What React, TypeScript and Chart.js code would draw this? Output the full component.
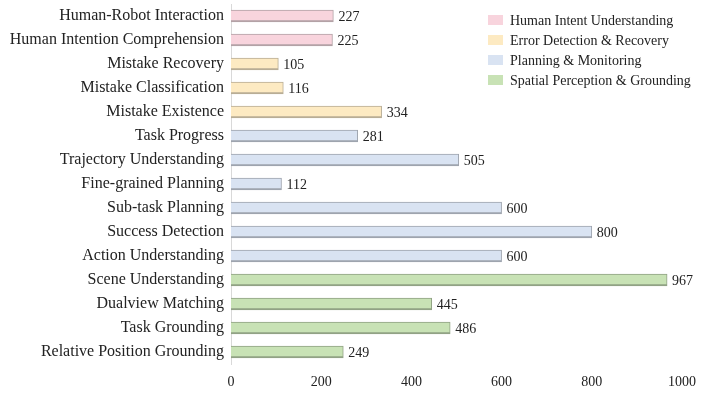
import React, { useEffect, useRef } from "react";
import { Chart, registerables } from "chart.js";

Chart.register(...registerables);

const categories = [
  "Human-Robot Interaction",
  "Human Intention Comprehension",
  "Mistake Recovery",
  "Mistake Classification",
  "Mistake Existence",
  "Task Progress",
  "Trajectory Understanding",
  "Fine-grained Planning",
  "Sub-task Planning",
  "Success Detection",
  "Action Understanding",
  "Scene Understanding",
  "Dualview Matching",
  "Task Grounding",
  "Relative Position Grounding",
];

const values = [227, 225, 105, 116, 334, 281, 505, 112, 600, 800, 600, 967, 445, 486, 249];

const groupNames = [
  "Human Intent Understanding",
  "Error Detection & Recovery",
  "Planning & Monitoring",
  "Spatial Perception & Grounding",
];

// group index of each category
const groupOf = [0, 0, 1, 1, 1, 2, 2, 2, 2, 2, 2, 3, 3, 3, 3];

const groupColors = ["#f8d4dd", "#fdeac2", "#d9e3f2", "#c8e2b5"];
const groupEdge = ["#b3a2a6", "#b8ad95", "#9ea4ae", "#91a285"];

const xTicks = [0, 200, 400, 600, 800, 1000];

const FONT = "'Liberation Serif', 'DejaVu Serif', serif";

export default function App() {
  const ref = useRef<HTMLCanvasElement | null>(null);

  useEffect(() => {
    document.body.style.margin = "0";
    const canvas = ref.current;
    if (!canvas) return;

    const datasets = groupNames.map((name, g) => ({
      label: name,
      data: values.map((v, i) => (groupOf[i] === g ? v : null)),
      backgroundColor: groupColors[g],
      borderColor: groupEdge[g],
      borderWidth: { top: 1, right: 1, bottom: 2, left: 0 },
      borderSkipped: false as const,
      barThickness: 12,
      grouped: false,
    }));

    const valueLabels = {
      id: "valueLabels",
      afterDatasetsDraw(chart: any) {
        const ctx = chart.ctx;
        ctx.save();
        ctx.font = `14px ${FONT}`;
        ctx.fillStyle = "#222";
        ctx.textAlign = "left";
        ctx.textBaseline = "middle";
        chart.data.datasets.forEach((ds: any, di: number) => {
          const meta = chart.getDatasetMeta(di);
          meta.data.forEach((bar: any, i: number) => {
            const v = ds.data[i];
            if (v == null) return;
            ctx.fillText(String(v), bar.x + 5, bar.y + 1);
          });
        });
        ctx.restore();
      },
    };

    const insideLegend = {
      id: "insideLegend",
      afterDraw(chart: any) {
        const ctx = chart.ctx;
        const a = chart.chartArea;
        const x0 = a.left + 257;
        const y0 = a.top + 16;
        ctx.save();
        ctx.font = `14px ${FONT}`;
        ctx.textBaseline = "middle";
        ctx.textAlign = "left";
        groupNames.forEach((name, g) => {
          const y = y0 + g * 20;
          ctx.fillStyle = groupColors[g];
          ctx.fillRect(x0, y - 5, 15, 10);
          ctx.fillStyle = "#222";
          ctx.fillText(name, x0 + 22, y + 1);
        });
        ctx.restore();
      },
    };

    const chart = new Chart(canvas, {
      type: "bar",
      data: { labels: categories, datasets },
      options: {
        indexAxis: "y",
        animation: false,
        responsive: false,
        maintainAspectRatio: false,
        layout: { padding: { top: 4, right: 20, left: 0, bottom: 0 } },
        plugins: {
          legend: { display: false },
          tooltip: { enabled: false },
        },
        scales: {
          x: {
            min: 0,
            max: 1000,
            afterBuildTicks(scale: any) {
              scale.ticks = xTicks.map((v) => ({ value: v }));
            },
            afterFit(scale: any) {
              scale.height = 34;
              scale.paddingLeft = 0;
              scale.paddingRight = 0;
            },
            grid: { display: false, drawTicks: false },
            border: { display: false },
            ticks: {
              padding: 10,
              color: "#222",
              font: { family: FONT, size: 14 },
              callback: (v: any) => String(v),
            },
          },
          y: {
            afterFit(scale: any) {
              scale.width = 231;
              scale.paddingTop = 0;
              scale.paddingBottom = 0;
            },
            grid: { display: false, drawTicks: false },
            border: { display: true, color: "#d9d9d9", width: 1 },
            ticks: {
              padding: 7,
              color: "#222",
              font: { family: FONT, size: 16 },
            },
          },
        },
      },
      plugins: [valueLabels, insideLegend],
    });

    return () => chart.destroy();
  }, []);

  return <canvas ref={ref} width={702} height={398} style={{ display: "block" }} />;
}
